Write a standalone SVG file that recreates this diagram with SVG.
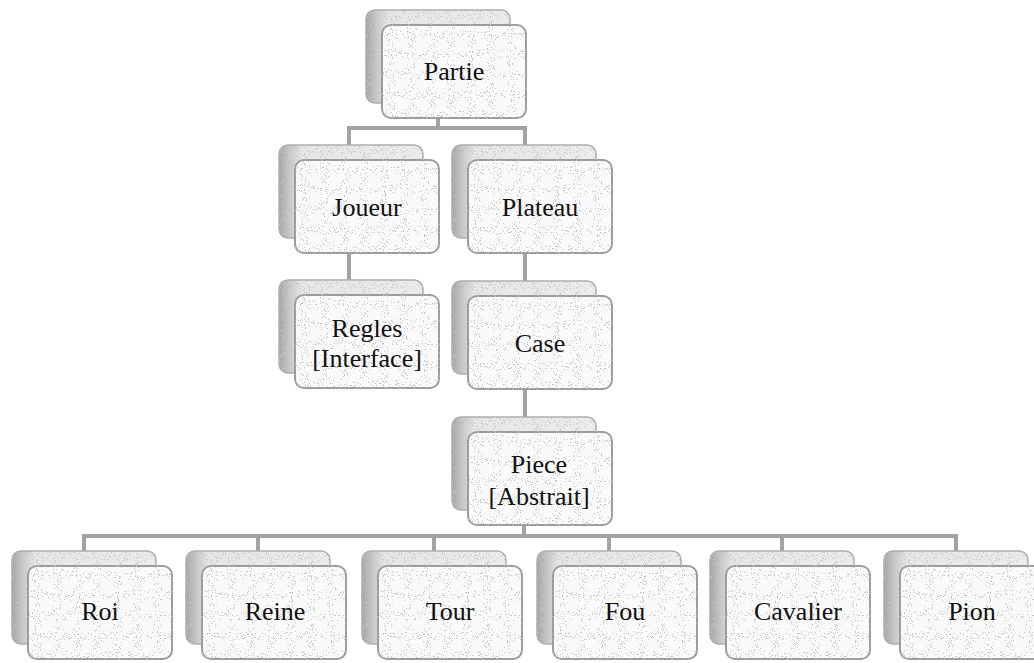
<svg xmlns="http://www.w3.org/2000/svg" width="1034" height="663" viewBox="0 0 1034 663">
<defs>
  <linearGradient id="backGrad" x1="0" y1="0" x2="1" y2="0">
    <stop offset="0" stop-color="#a4a4a4"/>
    <stop offset="0.07" stop-color="#c6c6c6"/>
    <stop offset="0.16" stop-color="#e6e6e6"/>
    <stop offset="1" stop-color="#ebebeb"/>
  </linearGradient>
  <filter id="grain" x="-5%" y="-5%" width="110%" height="110%">
    <feTurbulence type="fractalNoise" baseFrequency="0.95" numOctaves="1" seed="4" result="n"/>
    <feColorMatrix in="n" type="matrix" values="0 0 0 0 0.55  0 0 0 0 0.55  0 0 0 0 0.55  -25 0 0 0 9" result="dots"/>
    <feComposite in="dots" in2="SourceGraphic" operator="in" result="d2"/>
    <feMerge><feMergeNode in="SourceGraphic"/><feMergeNode in="d2"/></feMerge>
  </filter>
  <g id="box">
    <rect x="-16" y="-15" width="144" height="93" rx="9" fill="url(#backGrad)" stroke="#adadad" stroke-width="1.5"/>
    <rect x="0" y="0" width="144" height="93" rx="9" fill="#fafafa" stroke="#9c9c9c" stroke-width="2"/>
  </g>
</defs>
<style>
  .lbl { font-family: "Liberation Serif", "Times New Roman", serif; font-size: 26px; fill: #111; text-anchor: middle; }
  .conn { stroke: #a3a3a3; stroke-width: 4; fill: none; stroke-linecap: square; }
  .boxes { filter: url(#grain); }
</style>
<rect width="1034" height="663" fill="#ffffff"/>

<g id="connectors">
  <path class="conn" d="M438 119 V128 M349 128 H525 M349 128 V144 M525 128 V144"/>
  <path class="conn" d="M349 254 V279"/>
  <path class="conn" d="M525 254 V280"/>
  <path class="conn" d="M525 390 V416"/>
  <path class="conn" d="M524 526 V536 M84 536 H956 M84 536 V550 M258 536 V550 M434 536 V550 M609 536 V550 M782 536 V550 M956 536 V550"/>
</g>

<g id="partie"><use href="#box" x="382" y="25" class="boxes"/><text class="lbl" x="454" y="80">Partie</text></g>
<g id="joueur"><use href="#box" x="295" y="160" class="boxes"/><text class="lbl" x="367" y="216">Joueur</text></g>
<g id="plateau"><use href="#box" x="468" y="160" class="boxes"/><text class="lbl" x="540" y="216">Plateau</text></g>
<g id="regles"><use href="#box" x="295" y="295" class="boxes"/><text class="lbl" x="367" y="337">Regles</text><text class="lbl" x="367" y="367">[Interface]</text></g>
<g id="case"><use href="#box" x="468" y="296" class="boxes"/><text class="lbl" x="540" y="352">Case</text></g>
<g id="piece"><use href="#box" x="468" y="432" class="boxes"/><text class="lbl" x="539" y="473">Piece</text><text class="lbl" x="539" y="505">[Abstrait]</text></g>
<g id="roi"><use href="#box" x="28" y="566" class="boxes"/><text class="lbl" x="100" y="620">Roi</text></g>
<g id="reine"><use href="#box" x="202" y="566" class="boxes"/><text class="lbl" x="275" y="620">Reine</text></g>
<g id="tour"><use href="#box" x="378" y="566" class="boxes"/><text class="lbl" x="450" y="620">Tour</text></g>
<g id="fou"><use href="#box" x="553" y="566" class="boxes"/><text class="lbl" x="625" y="620">Fou</text></g>
<g id="cavalier"><use href="#box" x="726" y="566" class="boxes"/><text class="lbl" x="798" y="620">Cavalier</text></g>
<g id="pion"><use href="#box" x="900" y="566" class="boxes"/><text class="lbl" x="972" y="620">Pion</text></g>
</svg>
